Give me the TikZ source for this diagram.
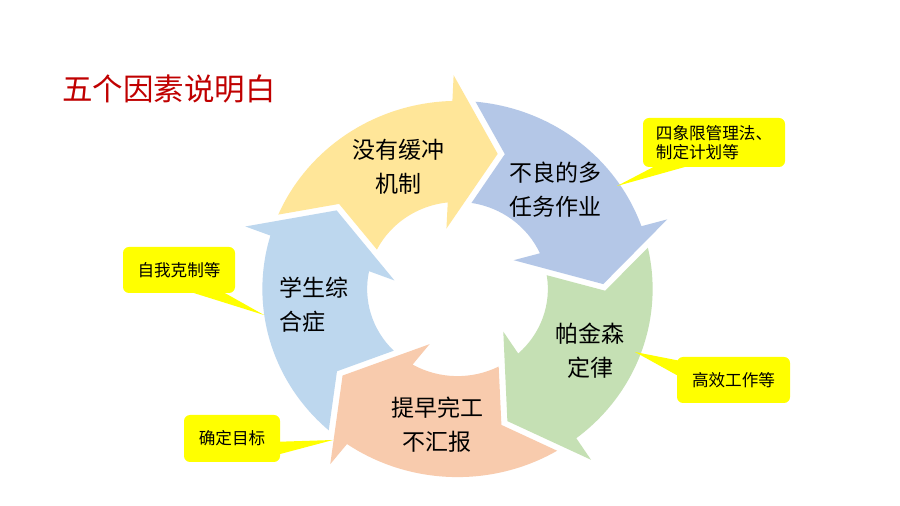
\documentclass[tikz,border=0pt]{standalone}
\usepackage{fontspec}
\setmainfont{Noto Sans CJK SC}
\usetikzlibrary{calc}
\definecolor{arY}{RGB}{255,230,153}
\definecolor{arP}{RGB}{180,199,231}
\definecolor{arG}{RGB}{197,224,180}
\definecolor{arO}{RGB}{248,203,173}
\definecolor{arB}{RGB}{189,215,238}
\definecolor{callY}{RGB}{255,255,0}
\definecolor{titleR}{RGB}{192,0,0}
% #1 tip angle, #2 colour
\newcommand\cycarrow[2]{%
  \fill[#2] ({#1+82.7}:190) arc[start angle={#1+82.7}, end angle={#1+17.5}, radius=190]
    -- ({#1+17}:216) -- ({#1}:142) -- ({#1+26}:62) -- ({#1+22.2}:88)
    arc[start angle={#1+22.2}, end angle={#1+79.1}, radius=88]
    -- ({#1+69.3}:143.8) -- cycle;}
\begin{document}
\begin{tikzpicture}[x=1pt,y=1pt,
  arrowtext/.style={font=\fontsize{23}{34}\selectfont, align=center, inner sep=0pt, text=black},
  callout/.style={fill=callY, rounded corners=6pt, font=\fontsize{16.6}{18.5}\selectfont, align=left, inner sep=0pt, text=black},
  wedge/.style={fill=callY}]
\useasboundingbox (0,0) rectangle (900,506);
\fill[white] (0,0) rectangle (900,506);

% title
\node[anchor=west, inner sep=0pt, text=titleR, font=\fontsize{30.5}{32}\selectfont] (title) at (62,417) {五个因素说明白};

% cycle of arrows
\begin{scope}[shift={(457.5,217)}, xscale=1.027, yscale=0.99]
  \cycarrow{74}{arY}
  \cycarrow{2}{arP}
  \cycarrow{-70}{arG}
  \cycarrow{-142}{arO}
  \cycarrow{-214}{arB}
\end{scope}

% arrow texts
\node[arrowtext] (tY) at (398,339) {没有缓冲\\机制};
\node[arrowtext] (tP) at (555,316) {不良的多\\任务作业};
\node[arrowtext] (tG) at (590,155) {帕金森\\定律};
\node[arrowtext] (tO) at (437,81) {提早完工\\不汇报};
\node[arrowtext, align=left, anchor=west] (tB) at (279,201) {学生综\\合症};

% callouts
\node[callout, minimum width=142pt, minimum height=49pt] (c1) at (714,363.5) {四象限管理法、\\制定计划等};
\coordinate (p1) at (617,320);
\fill[wedge] ($(c1.south west)+(16,3)$) -- (p1) -- ($(c1.south west)+(52,3)$) -- cycle;

\node[callout, minimum width=112pt, minimum height=46pt] (c2) at (179,236) {自我克制等};
\coordinate (p2) at (264,191);
\fill[wedge] ($(c2.south west)+(62,3)$) -- (p2) -- ($(c2.south west)+(97,3)$) -- cycle;

\node[callout, minimum width=113pt, minimum height=46pt] (c3) at (733.5,126) {高效工作等};
\coordinate (p3) at (635,154);
\fill[wedge] ($(c3.north west)+(3,-4)$) -- (p3) -- ($(c3.north west)+(3,-20)$) -- cycle;

\node[callout, minimum width=96pt, minimum height=47pt] (c4) at (232,67.5) {确定目标};
\coordinate (p4) at (333,66);
\fill[wedge] ($(c4.north east)+(-3,-27)$) -- (p4) -- ($(c4.north east)+(-3,-40)$) -- cycle;
\end{tikzpicture}
\end{document}
